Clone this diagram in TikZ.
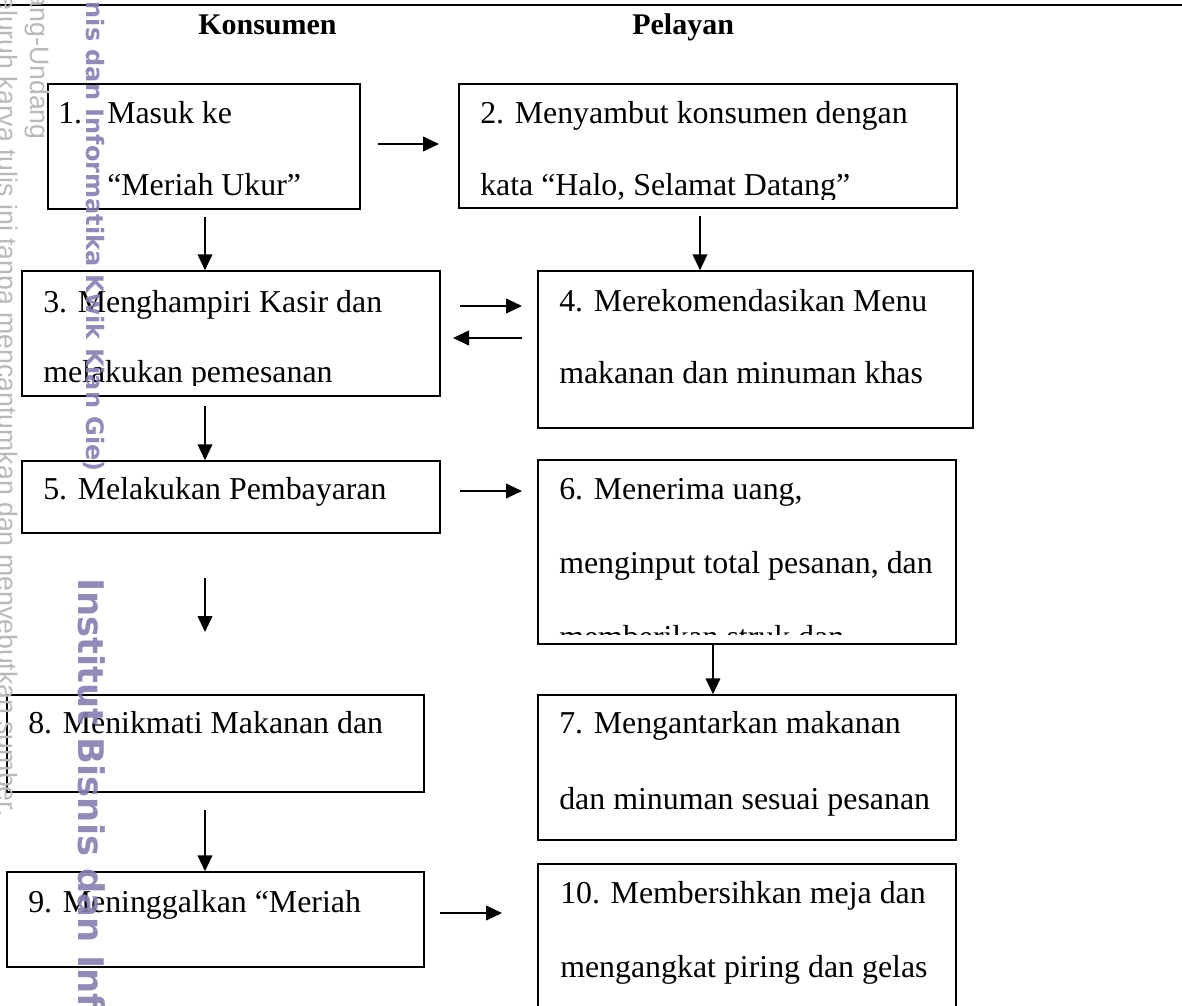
\documentclass[tikz,border=0pt]{standalone}
\usepackage{fontspec}
\setmainfont{Liberation Serif}
\newfontfamily\wmfont{DejaVu Sans}
\newfontfamily\wmgfont{Liberation Sans}
\usetikzlibrary{arrows.meta,fit}
\definecolor{wmpurple}{RGB}{132,127,176}
\tikzset{
  box/.style={draw=black, line width=1.1pt, inner sep=0pt, rectangle},
  arr/.style={line width=1.4pt, -{Triangle[length=12pt,width=11pt]}},
  txt/.style={anchor=base west, inner sep=0pt, font=\fontsize{23.9}{28}\selectfont},
  head/.style={anchor=base west, inner sep=0pt, font=\fontsize{22.5}{27}\selectfont\bfseries},
  wmg/.style={rotate=-90, inner sep=0pt, text=gray!55, font=\wmgfont\fontsize{20}{24}\selectfont},
  wmp/.style={rotate=-90, inner sep=0pt, text=wmpurple, opacity=0.9},
}
\begin{document}
\begin{tikzpicture}[x=0.75pt,y=-0.75pt]
\clip (0,0) rectangle (1182,1006);
\fill[white] (0,0) rectangle (1182,1006);
% top rule
\draw[line width=1.6pt] (0,5) -- (1182,5);
% headers
\node[head] (hK) at (198,35) {Konsumen};
\node[head] (hP) at (632,35) {Pelayan};
% boxes
\node[box, fit={(48,84) (360,209)}] (b1) {};
\node[box, fit={(459,84) (957,208)}] (b2) {};
\node[box, fit={(22,271) (440,396)}] (b3) {};
\node[box, fit={(538,271) (973,428)}] (b4) {};
\node[box, fit={(22,461) (440,533)}] (b5) {};
\node[box, fit={(538,460) (956,644)}] (b6) {};
\node[box, fit={(538,695) (956,840)}] (b7) {};
\node[box, fit={(7,695) (424,792)}] (b8) {};
\node[box, fit={(7,872) (424,967)}] (b9) {};
\node[box, fit={(538,864) (956,1030)}] (b10) {};
% texts
\node[txt] (t1a) at (58,123) {1.};
\node[txt] (t1b) at (107,123) {Masuk ke};
\node[txt] (t1c) at (107,195) {“Meriah Ukur”};
\begin{scope}
  \clip (459,84) rectangle (957,199);
  \node[txt] (t2a) at (480,123) {2. Menyambut konsumen dengan};
  \node[txt] (t2b) at (480,195) {kata “Halo, Selamat Datang”};
\end{scope}
\begin{scope}
  \clip (22,271) rectangle (440,385);
  \node[txt] (t3a) at (43,312) {3. Menghampiri Kasir dan};
  \node[txt] (t3b) at (43,382) {melakukan pemesanan};
\end{scope}
\node[txt] (t4a) at (559,311) {4. Merekomendasikan Menu};
\node[txt] (t4b) at (559,383) {makanan dan minuman khas};
\node[txt] (t5) at (43,499) {5. Melakukan Pembayaran};
\begin{scope}
  \clip (538,460) rectangle (956,634);
  \node[txt] (t6a) at (559,499) {6. Menerima uang,};
  \node[txt] (t6b) at (559,573) {menginput total pesanan, dan};
  \node[txt] (t6c) at (559,647) {memberikan struk dan};
\end{scope}
\node[txt] (t7a) at (559,733) {7. Mengantarkan makanan};
\node[txt] (t7b) at (559,809) {dan minuman sesuai pesanan};
\node[txt] (t8) at (28,733) {8. Menikmati Makanan dan};
\node[txt] (t9) at (28,912) {9. Meninggalkan “Meriah};
\node[txt] (t10a) at (560,903) {10. Membersihkan meja dan};
\node[txt] (t10b) at (560,977) {mengangkat piring dan gelas};
% connectors
\coordinate (s12) at (378,144); \coordinate (e12) at (439,144);
\draw[arr] (s12) -- (e12);
\coordinate (s13) at (205,217);
\draw[arr] (s13) -- (s13 |- b3.north);
\coordinate (s24) at (700,216);
\draw[arr] (s24) -- (s24 |- b4.north);
\coordinate (s34) at (460,306); \coordinate (e34) at (522,306);
\draw[arr] (s34) -- (e34);
\coordinate (s43) at (522,338); \coordinate (e43) at (453,338);
\draw[arr] (s43) -- (e43);
\coordinate (s35) at (205,406);
\draw[arr] (s35) -- (s35 |- b5.north);
\coordinate (s56) at (460,491); \coordinate (e56) at (522,491);
\draw[arr] (s56) -- (e56);
\coordinate (s58) at (205,578); \coordinate (e58) at (205,632);
\draw[arr] (s58) -- (e58);
\coordinate (c67) at (713,0);
\draw[arr] (b6.south -| c67) -- (b7.north -| c67);
\coordinate (s89) at (205,810);
\draw[arr] (s89) -- (s89 |- b9.north);
\coordinate (s910) at (440,913); \coordinate (e910) at (502,913);
\draw[arr] (s910) -- (e910);
% watermark
\node[wmg, anchor=east] (w1) at (37,140) {Hak Cipta Dilindungi Undang-Undang};
\node[wmg, anchor=east] (w2) at (5,817) {Dilarang mengutip sebagian atau seluruh karya tulis ini tanpa mencantumkan dan menyebutkan sumber.};
\node[wmp, anchor=east, font=\wmfont\bfseries\fontsize{18}{22}\selectfont] (w3) at (93,472) {© Hak cipta milik IBI KKG (Institut Bisnis dan Informatika Kwik Kian Gie)};
\node[wmp, anchor=west, font=\wmfont\bfseries\fontsize{26.5}{32}\selectfont] (w4) at (92,578) {Institut Bisnis dan Informatika Kwik Kian Gie};
\end{tikzpicture}
\end{document}
